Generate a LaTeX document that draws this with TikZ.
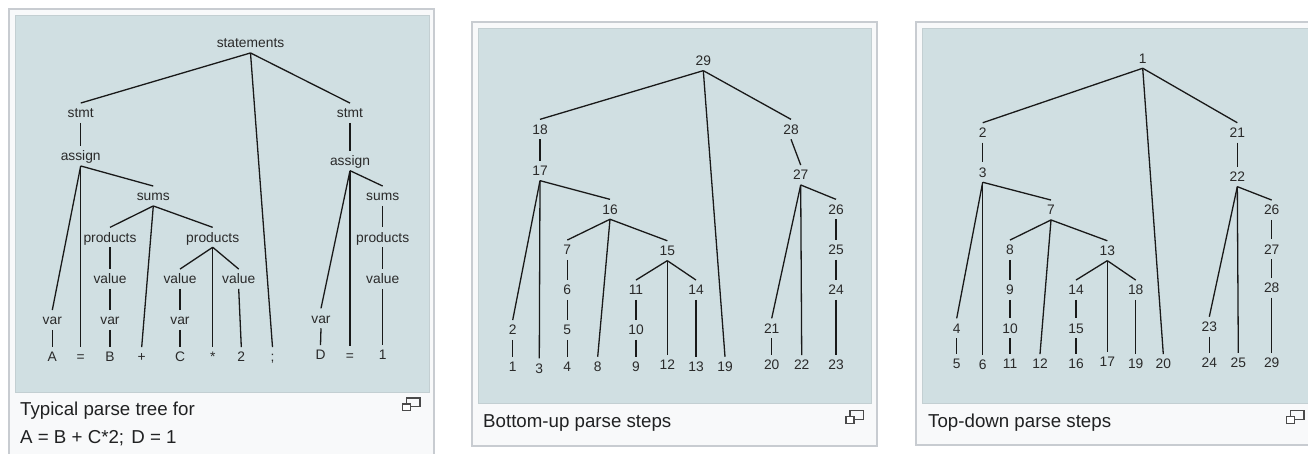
\documentclass[tikz,border=0pt]{standalone}
\usepackage{fontspec}
\setmainfont{Liberation Sans}
\definecolor{panelbg}{HTML}{F8F9FA}
\definecolor{panelbd}{HTML}{C8CCD1}
\definecolor{treebg}{HTML}{D0DFE2}
\definecolor{treebd}{HTML}{C3CFD2}
\definecolor{ink}{HTML}{2A2A2A}
\definecolor{capc}{HTML}{202122}
\tikzset{
  lbl/.style={inner xsep=0pt, inner ysep=5pt, text height=9.5pt, text depth=0pt,
    font=\fontsize{13.8}{16}\selectfont, text=ink},
  conn/.style={draw=black!90, line width=1.3pt},
  panelframe/.style={fill=panelbg, draw=panelbd, line width=1.2pt},
  treearea/.style={fill=treebg, draw=treebd, line width=1pt},
  captext/.style={anchor=base west, inner sep=0pt, font=\fontsize{18.7}{22}\selectfont, text=capc},
  iconline/.style={draw=ink!85, line width=1.2pt}
}
\newcommand{\mkicon}[2]{%
  \draw[iconline, fill=panelbg] (#1+4,#2) rectangle ++(13.3,8.6);
  \draw[iconline, fill=white] (#1,#2+6) rectangle ++(8,6.6);
}
\begin{document}
\begin{tikzpicture}[x=1pt, y=-1pt]
\useasboundingbox (0,0) rectangle (1308,453);
\clip (0,0) rectangle (1308,453);
\fill[white] (0,0) rectangle (1308,453);

% ---------- frames ----------
\draw[panelframe] (9,9) rectangle (434,470);
\draw[treearea] (15,15) rectangle (429,392);
\draw[panelframe] (472,22) rectangle (877,446);
\draw[treearea] (478,28) rectangle (871,403);
\draw[panelframe] (916,22) rectangle (1325,445);
\draw[treearea] (922,28) rectangle (1318,403);

% ---------- captions ----------
\node[captext] (cap1a) at (20,415) {Typical parse tree for};
\node[captext] (cap1b) at (20,443.3) {A = B + C*2;\hspace{2pt} D = 1};
\node[captext] (cap2) at (483,427.3) {Bottom-up parse steps};
\node[captext] (cap3) at (928,427.3) {Top-down parse steps};
\mkicon{402.7}{398}
\mkicon{846}{410.7}
\mkicon{1286.7}{410.7}

% ---------- panel 1: parse tree ----------
\begin{scope}[every node/.style={lbl}]
\node (statements) at (250.5,43) {statements};
\node (stmtL) at (80.7,113) {stmt};
\node (stmtR) at (350,113) {stmt};
\node (assignL) at (80.7,156) {assign};
\node (assignR) at (350,160.7) {assign};
\node (sumsL) at (153.3,196) {sums};
\node (sumsR) at (382.7,196) {sums};
\node (prod1) at (110,237.3) {products};
\node (prod2) at (212.7,237.3) {products};
\node (prodR) at (382.7,237.3) {products};
\node (val1) at (110,279) {value};
\node (val2) at (180,279) {value};
\node (val3) at (238.7,279) {value};
\node (valR) at (382.7,279) {value};
\node (varA) at (52.3,320) {var};
\node (varB) at (110,320) {var};
\node (varC) at (180,320) {var};
\node (varD) at (321,318.3) {var};
\node (A) at (52.3,357) {A};
\node (eq1) at (80.7,357) {=};
\node (B) at (110,357) {B};
\node (plus) at (141.7,357) {+};
\node (C) at (180,357) {C};
\node (star) at (212.7,357) {*};
\node (two) at (241.3,357) {2};
\node (semi) at (272.5,357) {;};
\node (D) at (320.5,355) {D};
\node (eq2) at (350,356) {=};
\node (one) at (382.7,355) {1};
\end{scope}
\foreach \a/\b in {statements/stmtL, statements/semi, statements/stmtR,
  stmtL/assignL, assignL/varA, assignL/eq1, assignL/sumsL,
  sumsL/prod1, sumsL/plus, sumsL/prod2,
  prod1/val1, val1/varB, varB/B,
  prod2/val2, prod2/star, prod2/val3, val2/varC, varC/C, val3/two, varA/A,
  stmtR/assignR, assignR/varD, assignR/eq2, assignR/sumsR,
  sumsR/prodR, prodR/valR, valR/one, varD/D}
  \draw[conn] (\a.south) -- (\b.north);

% ---------- panel 2: bottom-up ----------
\begin{scope}[every node/.style={lbl}]
\node (b29) at (703.3,60.7) {29};
\node (b18) at (540,129.3) {18};
\node (b28) at (791,129.3) {28};
\node (b17) at (540,170.7) {17};
\node (b27) at (800.7,175) {27};
\node (b16) at (610,209.3) {16};
\node (b26) at (836,209.3) {26};
\node (b7) at (567.3,250) {7};
\node (b15) at (667.3,250.7) {15};
\node (b25) at (836,250) {25};
\node (b6) at (567.3,290) {6};
\node (b11) at (636,290) {11};
\node (b14) at (696,290) {14};
\node (b24) at (836,290) {24};
\node (b2) at (512.7,330) {2};
\node (b5) at (567.3,330) {5};
\node (b10) at (636,330) {10};
\node (b21) at (771.7,328.3) {21};
\node (b1) at (512.7,366.7) {1};
\node (b3) at (539.3,368.3) {3};
\node (b4) at (567.3,366.7) {4};
\node (b8) at (597.7,366.7) {8};
\node (b9) at (636,366.7) {9};
\node (b12) at (667.3,365) {12};
\node (b13) at (696,366.7) {13};
\node (b19) at (725,366.7) {19};
\node (b20) at (771.7,365) {20};
\node (b22) at (801.7,365) {22};
\node (b23) at (836,365) {23};
\end{scope}
\foreach \a/\b in {b29/b18, b29/b19, b29/b28, b18/b17,
  b17/b2, b17/b3, b17/b16, b2/b1,
  b16/b7, b16/b8, b16/b15, b7/b6, b6/b5, b5/b4,
  b15/b11, b15/b12, b15/b14, b11/b10, b10/b9, b14/b13,
  b28/b27, b27/b21, b27/b22, b27/b26, b21/b20,
  b26/b25, b25/b24, b24/b23}
  \draw[conn] (\a.south) -- (\b.north);

% ---------- panel 3: top-down ----------
\begin{scope}[every node/.style={lbl}]
\node (t1) at (1142.7,58.3) {1};
\node (t2) at (982.7,132.7) {2};
\node (t21) at (1237.3,132.7) {21};
\node (t3) at (982.7,172.3) {3};
\node (t22) at (1237.3,176.7) {22};
\node (t7) at (1051,210) {7};
\node (t26) at (1271.7,210) {26};
\node (t8) at (1010,250) {8};
\node (t13) at (1107.3,250.7) {13};
\node (t27) at (1271.7,249.3) {27};
\node (t9) at (1010,290) {9};
\node (t14) at (1076,290) {14};
\node (t18) at (1135.7,290) {18};
\node (t28) at (1271.7,287.7) {28};
\node (t4) at (956.7,328.3) {4};
\node (t10) at (1010,328.3) {10};
\node (t15) at (1076,328.3) {15};
\node (t23) at (1209.3,326.7) {23};
\node (t5) at (956.7,364) {5};
\node (t6) at (982.7,365) {6};
\node (t11) at (1010,364) {11};
\node (t12) at (1040,364) {12};
\node (t16) at (1076,364) {16};
\node (t17) at (1107.3,361.7) {17};
\node (t19) at (1135.7,364) {19};
\node (t20) at (1163.3,364) {20};
\node (t24) at (1209.3,362.7) {24};
\node (t25) at (1238.3,362.7) {25};
\node (t29) at (1271.7,362.7) {29};
\end{scope}
\foreach \a/\b in {t1/t2, t1/t20, t1/t21, t2/t3,
  t3/t4, t3/t6, t3/t7, t4/t5,
  t7/t8, t7/t12, t7/t13, t8/t9, t9/t10, t10/t11,
  t13/t14, t13/t17, t13/t18, t14/t15, t15/t16, t18/t19,
  t21/t22, t22/t23, t22/t25, t22/t26, t23/t24,
  t26/t27, t27/t28, t28/t29}
  \draw[conn] (\a.south) -- (\b.north);
\end{tikzpicture}
\end{document}
